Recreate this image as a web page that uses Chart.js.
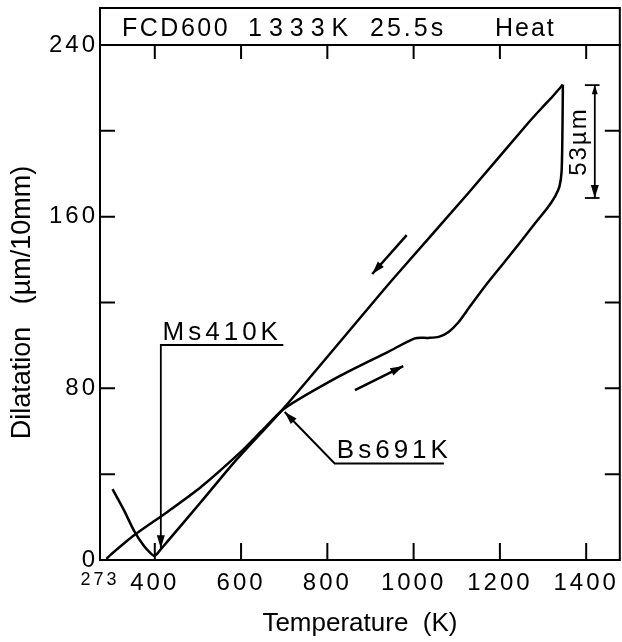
<!DOCTYPE html>
<html>
<head>
<meta charset="utf-8">
<script src="https://cdn.jsdelivr.net/npm/chart.js@4.4.1/dist/chart.umd.min.js"></script>
<style>
  html, body { margin: 0; padding: 0; background: #fff; }
</style>
</head>
<body>
<canvas id="dilatationChart" width="622" height="642"></canvas>
<script>
// heating run (temperature K, dilatation um/10mm)
var heatT = [288, 298, 352, 430, 507, 600, 647, 700, 825, 941, 1003, 1034, 1058, 1081, 1104, 1130, 1165, 1205, 1245, 1282, 1310, 1328, 1338, 1343, 1345, 1346];
var heatD = [0.5, 2.5, 11.5, 22.5, 34, 50.5, 60, 70.5, 85.3, 97, 103.3, 103.5, 104, 106.3, 110.8, 118, 127.5, 137.5, 147.5, 157, 164, 169.5, 174, 181, 200, 221.5];

// cooling run
var coolT = [1346, 1322, 1300, 1267, 1127, 972, 929, 700, 584, 507, 430, 414, 405, 398, 390, 375, 352, 329, 302];
var coolD = [221.5, 216, 211.3, 204, 171, 135.5, 125.5, 71, 45.5, 27, 8.8, 5, 2.8, 2, 3.2, 6.5, 13.6, 23, 33];

// axis ticks
var xLabelTicks = [273, 400, 600, 800, 1000, 1200, 1400];
var xTickMarks = [400, 600, 800, 1000, 1200, 1400];
var yLabelTicks = [0, 80, 160, 240];
var yTickMarks = [40, 80, 120, 160, 200];

// annotations (data coords)
var msLineT = [698, 414, 414];
var msLineD = [100.2, 100.2, 5.5];
var bsLineT = [1070, 817, 701];
var bsLineD = [45, 45, 69];
var heatArrowT = [864, 976];
var heatArrowD = [79.2, 90.4];
var coolArrowT = [984, 904];
var coolArrowD = [151.4, 133.3];
var bracketT = [1420, 1420];
var bracketD = [221.3, 168.7];
var bracketCapT = [1397, 1431];

var headerWords = ["FCD600", "1333K", "25.5s", "Heat"];
var msText = "Ms410K";
var bsText = "Bs691K";
var bracketText = "53µm";

var FONT = "'Liberation Sans', Arial, sans-serif";

function pts(xs, ys) {
  return xs.map(function (x, i) { return { x: x, y: ys[i] }; });
}

function lineSet(data, width, head) {
  return {
    data: data,
    showLine: true,
    borderColor: '#000',
    backgroundColor: '#000',
    borderWidth: width,
    pointRadius: 0,
    tension: 0,
    clip: false,
    head: head
  };
}

// spaced-out tick digits like the original lettering
function spacedLabels(axis) {
  if (axis._spaced) return;
  axis._spaced = true;
  var orig = axis.drawLabels;
  axis.drawLabels = function (area) {
    var ctx = this.ctx;
    ctx.save();
    ctx.letterSpacing = '3px';
    orig.call(this, area);
    ctx.restore();
  };
}

function drawHead(ctx, from, to, len, half) {
  var a = Math.atan2(to.y - from.y, to.x - from.x);
  var bx = to.x - len * Math.cos(a), by = to.y - len * Math.sin(a);
  ctx.beginPath();
  ctx.moveTo(to.x, to.y);
  ctx.lineTo(bx + half * Math.sin(a), by - half * Math.cos(a));
  ctx.lineTo(bx - half * Math.sin(a), by + half * Math.cos(a));
  ctx.closePath();
  ctx.fill();
}

var arrowPlugin = {
  id: 'arrows',
  afterDatasetsDraw: function (chart) {
    var ctx = chart.ctx;
    ctx.save();
    ctx.fillStyle = '#000';
    chart.data.datasets.forEach(function (ds, i) {
      if (!ds.head) return;
      var p = chart.getDatasetMeta(i).data;
      var n = p.length;
      drawHead(ctx, p[n - 2], p[n - 1], 13, 4);
      if (ds.head === 'both') drawHead(ctx, p[1], p[0], 9, 3);
    });
    ctx.restore();
  }
};

var framePlugin = {
  id: 'frame',
  afterDraw: function (chart) {
    var ctx = chart.ctx, a = chart.chartArea;
    var xs = chart.scales.x, ys = chart.scales.y;
    ctx.save();
    ctx.strokeStyle = '#000';
    ctx.lineWidth = 2;
    ctx.strokeRect(a.left, a.top, a.right - a.left, a.bottom - a.top);
    ctx.strokeRect(a.left, 8, a.right - a.left, a.top - 8);

    ctx.beginPath();
    xTickMarks.forEach(function (v) {
      var px = xs.getPixelForValue(v);
      ctx.moveTo(px, a.bottom); ctx.lineTo(px, a.bottom - 17);
      ctx.moveTo(px, a.top); ctx.lineTo(px, a.top + 14);
    });
    yTickMarks.forEach(function (v) {
      var py = ys.getPixelForValue(v);
      ctx.moveTo(a.left, py); ctx.lineTo(a.left + 15, py);
      ctx.moveTo(a.right, py); ctx.lineTo(a.right - 15, py);
    });
    ctx.stroke();

    // header line
    ctx.fillStyle = '#000';
    ctx.textBaseline = 'alphabetic';
    ctx.textAlign = 'left';
    ctx.font = '25px ' + FONT;
    var hx = [122, 248, 370, 495];
    var hs = ['2.5px', '7px', '3px', '2px'];
    headerWords.forEach(function (w, i) {
      ctx.letterSpacing = hs[i];
      ctx.fillText(w, hx[i], 36);
    });

    // Ms / Bs labels
    ctx.font = '26px ' + FONT;
    ctx.letterSpacing = '4px';
    ctx.fillText(msText, xs.getPixelForValue(418), ys.getPixelForValue(102.5));
    ctx.fillText(bsText, xs.getPixelForValue(822), ys.getPixelForValue(47.5));

    // 53 um bracket text
    ctx.save();
    ctx.translate(xs.getPixelForValue(1384), ys.getPixelForValue(195));
    ctx.rotate(-Math.PI / 2);
    ctx.font = '24px ' + FONT;
    ctx.letterSpacing = '2px';
    ctx.textAlign = 'center';
    ctx.textBaseline = 'middle';
    ctx.fillText(bracketText, 0, 0);
    ctx.restore();

    ctx.restore();
  }
};

new Chart('dilatationChart', {
  type: 'scatter',
  data: {
    datasets: [
      Object.assign(lineSet(pts(heatT, heatD), 2.5), { tension: 0.25 }),
      Object.assign(lineSet(pts(coolT, coolD), 2.5), { tension: 0.25 }),
      lineSet(pts(msLineT, msLineD), 1.8, 'end'),
      lineSet(pts(bsLineT, bsLineD), 2, 'end'),
      lineSet(pts(heatArrowT, heatArrowD), 2.5, 'end'),
      lineSet(pts(coolArrowT, coolArrowD), 2.5, 'end'),
      lineSet(pts(bracketT, bracketD), 1.8, 'both'),
      lineSet(pts(bracketCapT, [bracketD[0], bracketD[0]]), 1.8),
      lineSet(pts(bracketCapT, [bracketD[1], bracketD[1]]), 1.8)
    ]
  },
  options: {
    responsive: false,
    animation: false,
    layout: { padding: { top: 45, right: 2, left: 0, bottom: 0 } },
    plugins: {
      legend: { display: false },
      tooltip: { enabled: false }
    },
    scales: {
      x: {
        type: 'linear',
        min: 273,
        max: 1478,
        afterBuildTicks: function (axis) {
          axis.ticks = xLabelTicks.map(function (v) { return { value: v }; });
        },
        afterFit: function (axis) { axis.height = 82; spacedLabels(axis); },
        grid: { display: false, drawTicks: false },
        border: { display: false },
        ticks: {
          color: '#000',
          padding: 9,
          maxRotation: 0,
          autoSkip: false,
          callback: function (v) { return String(v); },
          font: function (c) {
            return (c.tick && c.tick.value === 273) ? { family: FONT, size: 18 } : { family: FONT, size: 24 };
          }
        },
        title: {
          display: true,
          text: 'Temperature  (K)',
          color: '#000',
          font: { family: FONT, size: 26 },
          padding: { bottom: 3 }
        }
      },
      y: {
        type: 'linear',
        min: 0,
        max: 240,
        afterBuildTicks: function (axis) {
          axis.ticks = yLabelTicks.map(function (v) { return { value: v }; });
        },
        afterFit: function (axis) { axis.width = 100; spacedLabels(axis); },
        grid: { display: false, drawTicks: false },
        border: { display: false },
        ticks: {
          color: '#000',
          padding: 2,
          callback: function (v) { return String(v); },
          font: { family: FONT, size: 24 }
        },
        title: {
          display: true,
          text: 'Dilatation   (µm/10mm)',
          color: '#000',
          font: { family: FONT, size: 27 },
          padding: { top: 6 }
        }
      }
    }
  },
  plugins: [arrowPlugin, framePlugin]
});
</script>
</body>
</html>
